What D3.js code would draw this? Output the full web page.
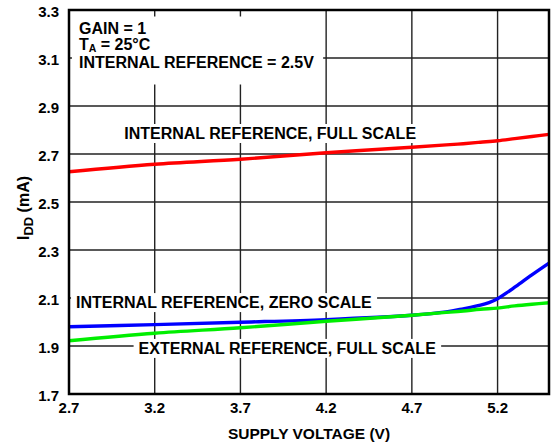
<!DOCTYPE html>
<html>
<head>
<meta charset="utf-8">
<script src="https://cdn.jsdelivr.net/npm/d3@7"></script>
<style>
  body { margin: 0; background: #fff; }
  svg text { font-family: "Liberation Sans", Arial, sans-serif; font-weight: bold; fill: #000; }
</style>
</head>
<body>
<div id="chart"></div>
<script>
// supply voltage (V)
const voltage = [2.7, 3.2, 3.7, 4.2, 4.7, 4.9, 5.0, 5.1, 5.2, 5.3, 5.4, 5.5];
const voltageZero = [2.7, 3.2, 3.7, 4.2, 4.7, 4.9, 5.0, 5.1, 5.15, 5.2, 5.25, 5.3, 5.4, 5.5];
// IDD (mA)
const intFull = [2.626, 2.657, 2.678, 2.705, 2.728, 2.738, 2.743, 2.749, 2.755, 2.764, 2.773, 2.782];
const intZero = [1.980, 1.989, 1.999, 2.010, 2.028, 2.042, 2.055, 2.070, 2.081, 2.097, 2.120, 2.145, 2.196, 2.245];
const extFull = [1.922, 1.953, 1.976, 2.003, 2.028, 2.040, 2.046, 2.053, 2.058, 2.067, 2.074, 2.080];

const xTicks = [2.7, 3.2, 3.7, 4.2, 4.7, 5.2];
const yTicks = [1.7, 1.9, 2.1, 2.3, 2.5, 2.7, 2.9, 3.1, 3.3];

const width = 554, height = 446;
const margin = { top: 10, right: 5, bottom: 52, left: 69 };

const svg = d3.select("#chart").append("svg")
  .attr("width", width)
  .attr("height", height);

const x = d3.scaleLinear().domain([2.7, 5.5]).range([margin.left, width - margin.right]);
const y = d3.scaleLinear().domain([1.7, 3.3]).range([height - margin.bottom, margin.top]);

// grid
const grid = svg.append("g").attr("stroke", "#222").attr("stroke-width", 1.4);
grid.selectAll("line.v")
  .data(xTicks.slice(1))
  .join("line")
  .attr("x1", d => x(d)).attr("x2", d => x(d))
  .attr("y1", y(1.7)).attr("y2", y(3.3));
grid.selectAll("line.h")
  .data(yTicks.slice(1, -1))
  .join("line")
  .attr("x1", x(2.7)).attr("x2", x(5.5))
  .attr("y1", d => y(d)).attr("y2", d => y(d));

// white boxes behind the labels go here, curves on top
const boxes = svg.append("g");
const curves = svg.append("g");
const labels = svg.append("g").attr("font-size", 16);

const series = [
  { xs: voltage, vals: intFull, color: "#ff0000" },
  { xs: voltageZero, vals: intZero, color: "#0000ff" },
  { xs: voltage, vals: extFull, color: "#00ee00" }
];
curves.selectAll("path")
  .data(series)
  .join("path")
  .attr("fill", "none")
  .attr("stroke", d => d.color)
  .attr("stroke-width", 3.4)
  .attr("d", s => d3.line()
    .x((d, i) => x(s.xs[i]))
    .y(d => y(d))
    .curve(d3.curveCatmullRom.alpha(0.5))(s.vals));

// frame
svg.append("rect")
  .attr("x", x(2.7)).attr("y", y(3.3))
  .attr("width", x(5.5) - x(2.7))
  .attr("height", y(1.7) - y(3.3))
  .attr("fill", "none")
  .attr("stroke", "#000")
  .attr("stroke-width", 2.5);

// curve labels
function label(txt, vx, vy) {
  const t = labels.append("text").attr("x", x(vx)).attr("y", y(vy)).text(txt);
  const b = t.node().getBBox();
  boxes.append("rect")
    .attr("x", b.x - 5).attr("y", b.y - 1)
    .attr("width", b.width + 10).attr("height", b.height + 2)
    .attr("fill", "#fff");
}
label("INTERNAL REFERENCE, FULL SCALE", 3.022, 2.7625);
label("INTERNAL REFERENCE, ZERO SCALE", 2.741, 2.058);
label("EXTERNAL REFERENCE, FULL SCALE", 3.106, 1.867);

// conditions block
const cond = labels.append("g");
const cx = x(2.758);
cond.append("text").attr("x", cx).attr("y", 33.5).text("GAIN = 1");
const ta = cond.append("text").attr("x", cx).attr("y", 49.5);
ta.append("tspan").text("T");
ta.append("tspan").attr("font-size", 10.5).attr("dy", 2.5).text("A");
ta.append("tspan").attr("dy", -2.5).text(" = 25°C");
cond.append("text").attr("x", cx).attr("y", 67.5).text("INTERNAL REFERENCE = 2.5V");
const cb = cond.node().getBBox();
boxes.append("rect")
  .attr("x", cb.x - 7).attr("y", cb.y - 3)
  .attr("width", cb.width + 16).attr("height", cb.height + 17)
  .attr("fill", "#fff");

// tick labels
svg.append("g").attr("font-size", 15)
  .selectAll("text")
  .data(yTicks)
  .join("text")
  .attr("x", margin.left - 10)
  .attr("y", d => y(d) + 7)
  .attr("text-anchor", "end")
  .text(d => d3.format(".1f")(d));

svg.append("g").attr("font-size", 15)
  .selectAll("text")
  .data(xTicks)
  .join("text")
  .attr("x", d => x(d))
  .attr("y", y(1.7) + 19)
  .attr("text-anchor", "middle")
  .text(d => d3.format(".1f")(d));

// axis titles
svg.append("text")
  .attr("x", (x(2.7) + x(5.5)) / 2)
  .attr("y", 439)
  .attr("text-anchor", "middle")
  .attr("font-size", 15.5)
  .text("SUPPLY VOLTAGE (V)");

const yt = svg.append("text")
  .attr("transform", "translate(29,208) rotate(-90)")
  .attr("text-anchor", "middle")
  .attr("font-size", 16);
yt.append("tspan").text("I");
yt.append("tspan").attr("font-size", 13).attr("dy", 4).text("DD");
yt.append("tspan").attr("dy", -4).text(" (mA)");
</script>
</body>
</html>
